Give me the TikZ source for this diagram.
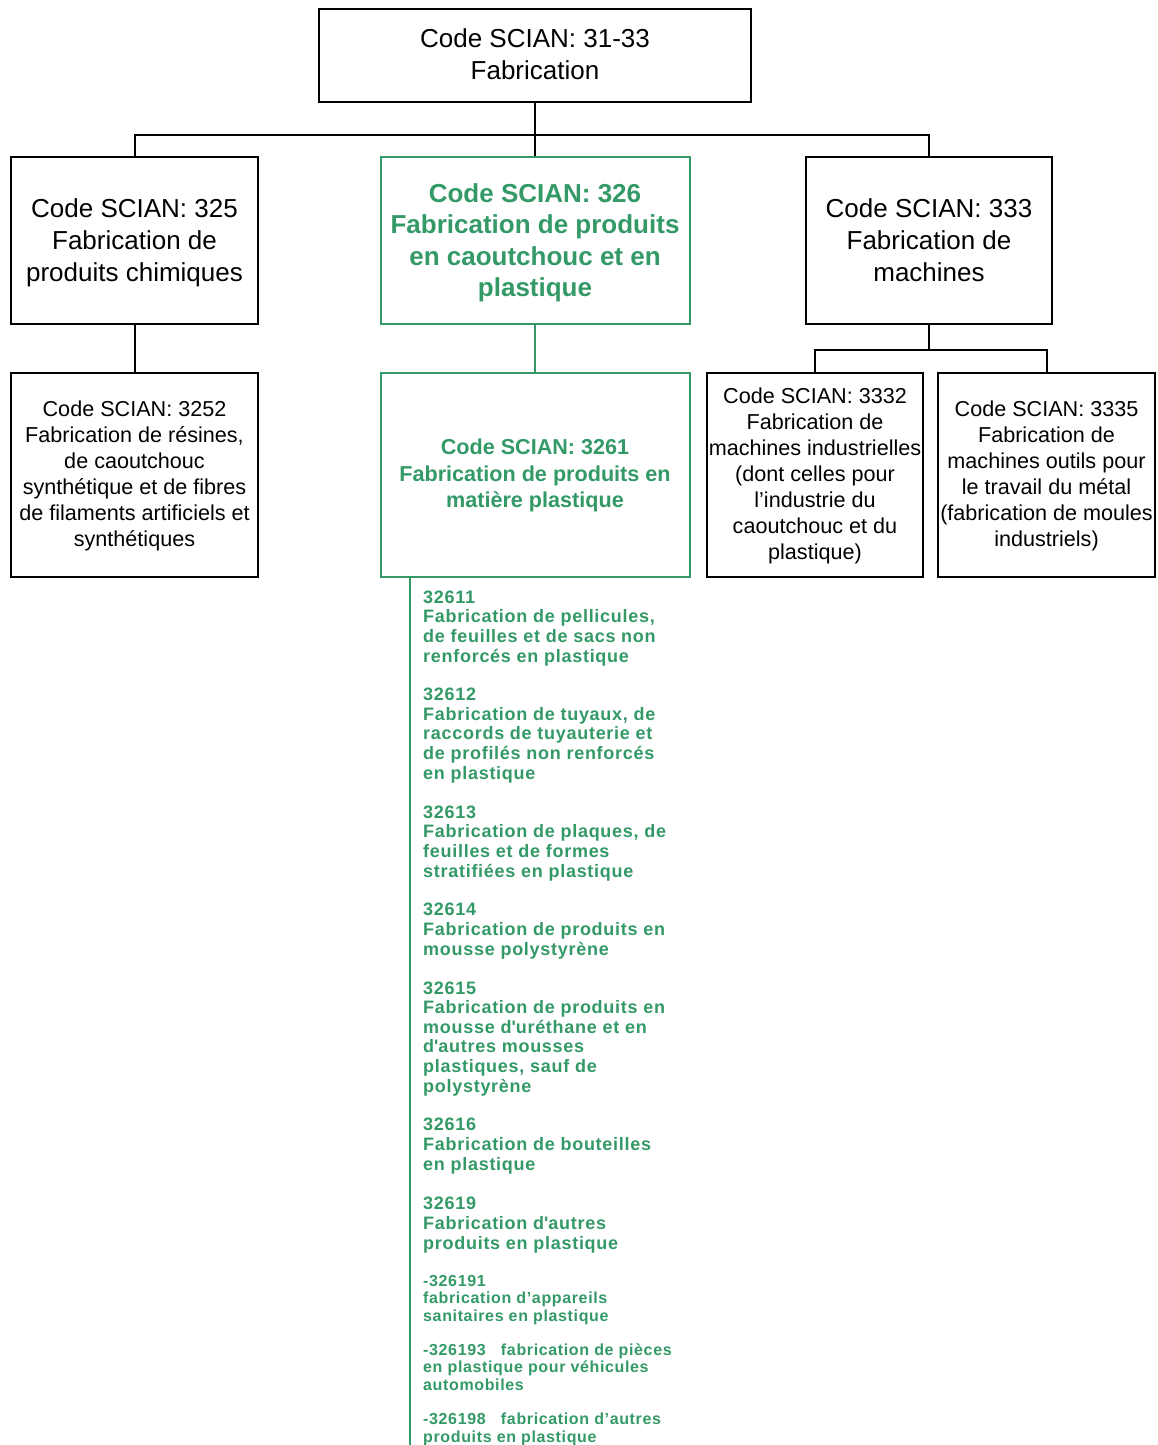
\documentclass[tikz,border=0pt]{standalone}
\usepackage{fontspec}
\setmainfont{Liberation Sans}
\newfontfamily\listfont[LetterSpace=4]{Liberation Sans}
\definecolor{sciangreen}{RGB}{51,153,102}

\begin{document}
\begin{tikzpicture}[x=1pt,y=-1pt,
    box/.style={draw,line width=2pt,align=center,inner sep=1pt,text depth=0pt},
    bigbox/.style={box,font=\fontsize{26}{32}\selectfont},
    smallbox/.style={box,font=\fontsize{21.6}{26}\selectfont},
    hl/.style={draw=sciangreen,text=sciangreen},
    link/.style={line width=2pt},
    glink/.style={line width=2pt,draw=sciangreen},
    item/.style={anchor=base west,align=left,inner sep=0pt,text=sciangreen,
        font=\listfont\bfseries\fontsize{18}{19.6}\selectfont},
    subitem/.style={item,font=\listfont\bfseries\fontsize{16}{17.5}\selectfont}]
    \useasboundingbox (0,0) rectangle (1157,1445);
    \node[bigbox,minimum width=432,minimum height=92,text height=48pt] (s3133) at (535,55.5)
        {Code SCIAN: 31-33\\Fabrication};
    \node[bigbox,minimum width=247,minimum height=167,text height=82pt] (s325) at (134.5,240.5)
        {Code SCIAN: 325\\Fabrication de\\produits chimiques};
    \node[bigbox,hl,minimum width=309,minimum height=167,text height=112.5pt,
        font=\fontsize{26}{31.5}\selectfont\bfseries] (s326) at (535,240.5)
        {Code SCIAN: 326\\Fabrication de produits\\en caoutchouc et en\\plastique};
    \node[bigbox,minimum width=246,minimum height=167,text height=82pt] (s333) at (929,240.5)
        {Code SCIAN: 333\\Fabrication de\\machines};
    \node[smallbox,minimum width=247,minimum height=204,text height=144pt] (s3252) at (134.5,474.5)
        {Code SCIAN: 3252\\Fabrication de résines,\\de caoutchouc\\synthétique et de fibres\\de filaments artificiels et\\synthétiques};
    \node[smallbox,hl,minimum width=309,minimum height=204,text height=66pt,
        font=\fontsize{21.6}{26.5}\selectfont\bfseries] (s3261) at (535,474.5)
        {Code SCIAN: 3261\\Fabrication de produits en\\matière plastique};
    \node[smallbox,minimum width=216,minimum height=204,text height=170pt] (s3332) at (815,474.5)
        {Code SCIAN: 3332\\Fabrication de\\machines industrielles\\(dont celles pour\\l’industrie du\\caoutchouc et du\\plastique)};
    \node[smallbox,minimum width=217,minimum height=204,text height=144pt] (s3335) at (1046.5,474.5)
        {Code SCIAN: 3335\\Fabrication de\\machines outils pour\\le travail du métal\\(fabrication de moules\\industriels)};
    \draw[link] (s3133.south) -- ++(0,32) -| (s325.north);
    \draw[link] (s3133.south) -- ++(0,32) -| (s333.north);
    \draw[link] (s3133.south) -- (s326.north);
    \draw[link] (s325.south) -- (s3252.north);
    \draw[glink] (s326.south) -- (s3261.north);
    \draw[link] (s333.south) -- ++(0,25) -| (s3332.north);
    \draw[link] (s333.south) -- ++(0,25) -| (s3335.north);
    \coordinate (lend) at (410,1445);
    \draw[glink] (s3261.south -| lend) -- (lend);
    \node[item] (c32611) at (423,662)
        {32611\\Fabrication de pellicules,\\de feuilles et de sacs non\\renforcés en plastique};
    \node[item] (c32612) at (423,779)
        {32612\\Fabrication de tuyaux, de\\raccords de tuyauterie et\\de profilés non renforcés\\en plastique};
    \node[item] (c32613) at (423,877)
        {32613\\Fabrication de plaques, de\\feuilles et de formes\\stratifiées en plastique};
    \node[item] (c32614) at (423,955)
        {32614\\Fabrication de produits en\\mousse polystyrène};
    \node[item] (c32615) at (423,1092)
        {32615\\Fabrication de produits en\\mousse d\textquotesingle uréthane et en\\d\textquotesingle autres mousses\\plastiques, sauf de\\polystyrène};
    \node[item] (c32616) at (423,1170)
        {32616\\Fabrication de bouteilles\\en plastique};
    \node[item] (c32619) at (423,1249)
        {32619\\Fabrication d\textquotesingle autres\\produits en plastique};
    \node[subitem] (c326191) at (423,1321)
        {-326191\\fabrication d’appareils\\sanitaires en plastique};
    \node[subitem] (c326193) at (423,1390)
        {-326193~~~fabrication de pièces\\en plastique pour véhicules\\automobiles};
    \node[subitem] (c326198) at (423,1442)
        {-326198~~~fabrication d’autres\\produits en plastique};
\end{tikzpicture}
\end{document}
